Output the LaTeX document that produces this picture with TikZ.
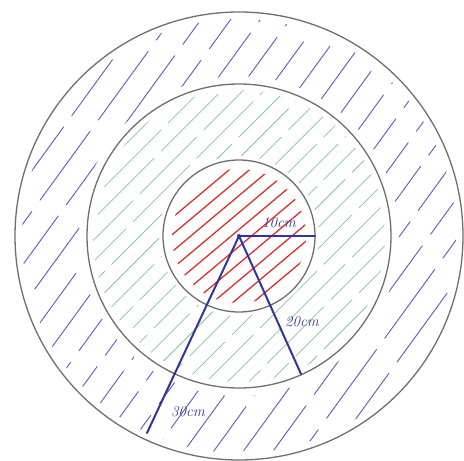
\documentclass[tikz,border=0pt]{standalone}
\usetikzlibrary{calc}
\definecolor{ringgray}{RGB}{110,110,110}
\definecolor{penblue}{RGB}{50,50,160}
\definecolor{hatchblue}{RGB}{90,90,195}
\definecolor{hatchgreen}{RGB}{130,200,160}
\definecolor{hatchred}{RGB}{225,45,45}
\begin{document}
\begin{tikzpicture}[x=1pt,y=-1pt,
  ring/.style={draw=ringgray,line width=1.3pt},
  radiusline/.style={draw=penblue,line width=2pt,line cap=round},
  hatch/.style={line width=1pt,line cap=round},
  lbl/.style={text=penblue,font=\itshape\fontsize{15}{15}\selectfont,inner sep=0pt}]
\useasboundingbox (0,0) rectangle (464,461);
\coordinate (O) at (239,236);
% blue hatching (outer ring)
\begin{scope}[even odd rule]
\clip (O) circle (217pt) (O) circle (160pt);
\foreach \d in {-230,-206,...,230} {
  \pgfmathsetmacro\ph{mod(abs(\d)*13,60)}
  \draw[hatch,hatchblue,line width=0.9pt,shift={(O)},rotate=54,dash pattern=on 85pt off 14pt,dash phase=\ph pt] (-260,\d) -- (260,\d);
}
\end{scope}
% green hatching (middle ring)
\begin{scope}[even odd rule]
\clip (O) circle (146pt) (O) circle (80pt);
\foreach \d in {-160,-145,...,160} {
  \pgfmathsetmacro\ph{mod(abs(\d)*17,70)}
  \draw[hatch,hatchgreen,line width=0.75pt,shift={(O)},rotate=45,dash pattern=on 80pt off 10pt,dash phase=\ph pt] (-200,\d) -- (200,\d);
}
\end{scope}
% red hatching (inner disc)
\begin{scope}
\clip (O) circle (67pt);
\foreach \d in {-70,-57,...,70} {
  \draw[hatch,hatchred,line width=1.3pt,shift={(O)},rotate=40] (-100,\d) -- (100,\d);
}
\end{scope}
% rings
\draw[ring] (O) circle (224pt);
\draw[ring] (O) circle (152pt);
\draw[ring] (O) circle (76pt);
% radii
\coordinate (A) at (315,236);
\coordinate (B) at (301,374);
\coordinate (C) at (147,433);
\draw[radiusline] (O) -- (A);
\draw[radiusline] (O) -- (B);
\draw[radiusline] (O) -- (C);
\fill[penblue] (O) circle (2pt);
% labels
\node[lbl] (la) at (279,223) {10cm};
\node[lbl] (lb) at (302,322) {20cm};
\node[lbl] (lc) at (188,412) {30cm};
\end{tikzpicture}
\end{document}
